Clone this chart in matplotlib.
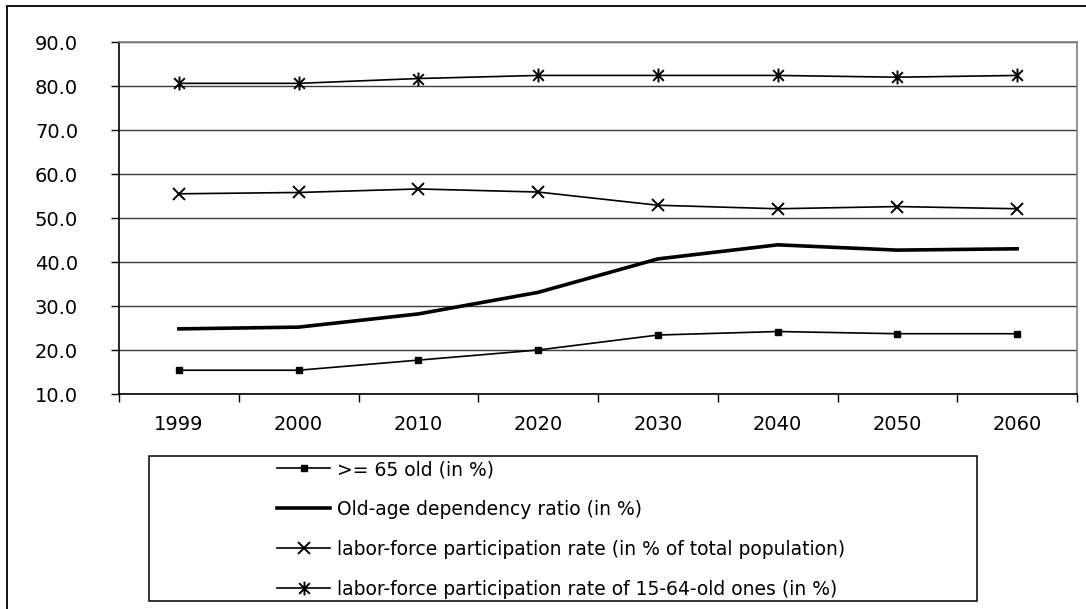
import matplotlib
matplotlib.use("Agg")
import matplotlib.pyplot as plt
from matplotlib.path import Path
from matplotlib.patches import Rectangle
import numpy as np

plt.rcParams['font.family'] = ['DejaVu Sans']

years = ["1999", "2000", "2010", "2020", "2030", "2040", "2050", "2060"]
share_65_plus = [15.4, 15.4, 17.7, 20.0, 23.4, 24.2, 23.7, 23.7]
dependency_ratio = [24.8, 25.2, 28.2, 33.1, 40.7, 43.9, 42.7, 43.0]
lfp_total = [55.5, 55.8, 56.6, 55.9, 52.9, 52.1, 52.6, 52.1]
lfp_15_64 = [80.6, 80.6, 81.7, 82.4, 82.4, 82.4, 82.0, 82.4]
y_ticks = [10, 20, 30, 40, 50, 60, 70, 80, 90]

labels = [">= 65 old (in %)",
          "Old-age dependency ratio (in %)",
          "labor-force participation rate (in % of total population)",
          "labor-force participation rate of 15-64-old ones (in %)"]

# asterisk marker: an X crossed by a vertical stroke
star_path = Path(
    [(-1, -1), (1, 1), (-1, 1), (1, -1), (0, -1.3), (0, 1.3)],
    [Path.MOVETO, Path.LINETO, Path.MOVETO, Path.LINETO, Path.MOVETO, Path.LINETO])

W, H = 1086, 609
fig = plt.figure(figsize=(W / 100, H / 100), dpi=100)
ax = fig.add_axes([119 / W, 1 - 394 / H, (1077 - 119) / W, (394 - 42) / H])

x = np.arange(len(years))
h1, = ax.plot(x, share_65_plus, color='black', lw=1.2, marker='s', ms=4.5,
              label=labels[0])
h2, = ax.plot(x, dependency_ratio, color='black', lw=2.6, label=labels[1])
h3, = ax.plot(x, lfp_total, color='black', lw=1.2, marker='x', ms=9,
              mew=1.4, label=labels[2])
h4, = ax.plot(x, lfp_15_64, color='black', lw=1.2, marker=star_path, ms=10,
              mew=1.4, mfc='none', label=labels[3])

ax.set_xlim(-0.5, len(years) - 0.5)
ax.set_ylim(10, 90)
ax.set_yticks(y_ticks)
ax.set_yticklabels([f"{v:.1f}" for v in y_ticks], fontsize=14)
ax.yaxis.grid(True, color='#3a3a3a', lw=1)
ax.set_axisbelow(True)

# category boundaries carry the tick marks, centres carry the labels
ax.set_xticks(np.arange(-0.5, len(years), 1.0))
ax.set_xticklabels([])
ax.set_xticks(x, minor=True)
ax.set_xticklabels(years, minor=True, fontsize=14)
ax.tick_params(axis='x', which='major', length=6, width=1, direction='out')
ax.tick_params(axis='x', which='minor', length=0, pad=15)
ax.tick_params(axis='y', length=6, width=1, direction='out', pad=23.5)

for side in ('left', 'bottom'):
    ax.spines[side].set_color('black')
    ax.spines[side].set_linewidth(1.2)
for side in ('top', 'right'):
    ax.spines[side].set_color('#808080')
    ax.spines[side].set_linewidth(1.2)

# outer chart frame
fig.patches.append(Rectangle((7 / W, -0.1), 1.2, 1 - 6 / H + 0.1,
                             transform=fig.transFigure, fill=False,
                             edgecolor='black', lw=1.3))

# legend box
fig.patches.append(Rectangle((149 / W, 1 - 601 / H), (977 - 149) / W,
                             (601 - 456) / H, transform=fig.transFigure,
                             fill=False, edgecolor='black', lw=1.1))
fig.legend(handles=[h1, h2, h3, h4], loc='upper left',
           bbox_to_anchor=(277 / W, 1 - 460 / H), frameon=False,
           fontsize=13.5, handlelength=2.83, handletextpad=0.37,
           labelspacing=1.12, borderpad=0, borderaxespad=0)

fig.savefig("out.png", dpi=100)
